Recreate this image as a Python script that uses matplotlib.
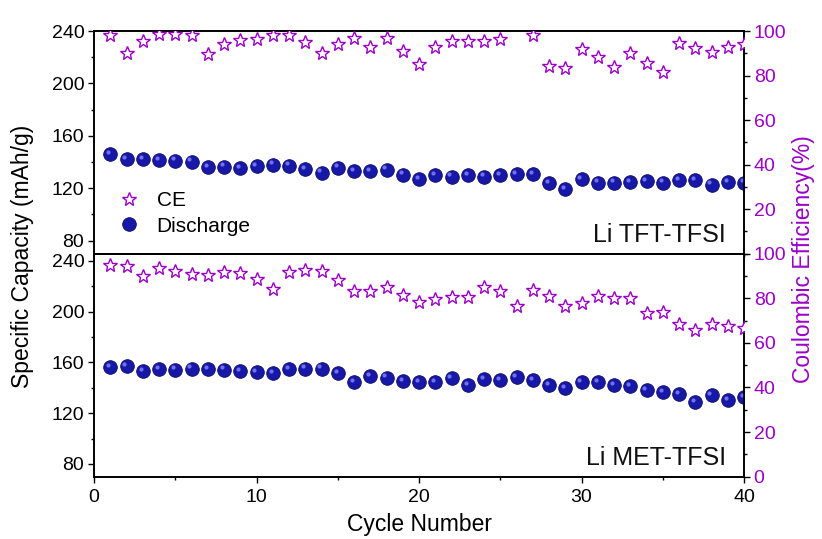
import numpy as np
import matplotlib
matplotlib.use("Agg")
import matplotlib.pyplot as plt
from matplotlib import transforms
from matplotlib.lines import Line2D
from matplotlib.ticker import MultipleLocator

plt.rcParams['font.family'] = ['Liberation Sans', 'DejaVu Sans']

cycles = np.arange(1, 41)

tft_discharge = [146.2, 142.1, 142.1, 141.6, 141.1, 140.3, 136.3, 136.5, 135.3, 137.0,
                 138.0, 137.3, 134.5, 131.9, 135.7, 133.2, 133.0, 134.2, 130.4, 126.9,
                 130.2, 128.9, 130.0, 128.9, 130.0, 130.7, 130.7, 123.8, 119.2, 126.9,
                 124.3, 124.3, 124.8, 125.3, 124.3, 126.3, 126.3, 122.8, 124.8, 124.3]
tft_ce = [98.2, 90.0, 95.5, 98.5, 98.5, 98.2, 89.5, 94.3, 96.0, 96.4,
          98.2, 98.2, 94.9, 90.3, 94.0, 96.7, 93.0, 96.7, 91.0, 85.0,
          92.8, 95.5, 95.7, 95.5, 96.4, np.nan, 98.2, 84.4, 83.2, 91.8,
          88.5, 84.0, 90.0, 85.8, 81.4, 94.5, 92.5, 90.4, 92.7, 94.2]
met_discharge = [156.3, 156.8, 152.9, 154.5, 154.2, 155.0, 154.5, 154.2, 153.4, 152.6,
                 151.8, 154.5, 155.0, 155.0, 151.5, 144.4, 148.9, 147.9, 145.0, 144.4,
                 144.4, 147.6, 141.8, 147.1, 146.3, 148.4, 146.3, 141.8, 140.0, 144.4,
                 144.4, 141.8, 141.0, 138.4, 136.5, 135.2, 128.4, 134.5, 130.0, 132.6]
met_ce = [94.9, 94.5, 90.0, 93.4, 92.2, 90.9, 90.3, 91.7, 91.2, 88.5,
          84.0, 91.7, 92.8, 92.4, 88.2, 83.4, 83.4, 85.1, 81.5, 78.2,
          79.8, 80.7, 80.4, 85.2, 83.3, 76.7, 83.7, 80.9, 76.4, 77.8,
          81.2, 80.3, 80.3, 73.5, 74.0, 68.5, 65.8, 68.3, 67.4, 66.5]

panel_names = ["Li TFT-TFSI", "Li MET-TFSI"]

purple = '#9B00C8'
blue = '#1818A8'
blue_edge = '#0A0A66'

fig = plt.figure(figsize=(8.22, 5.39), dpi=100)
L, W = 94 / 822, 650 / 822
ax_top = fig.add_axes([L, 1 - 253.7 / 539, W, 222.7 / 539])
ax_bot = fig.add_axes([L, 1 - 476.7 / 539, W, 223.0 / 539])

STAR_MS = 10.5
BALL_MS = 9.8

def draw_panel(ax, dis, ce, name, ylim, is_top):
    ax.set_xlim(0, 40)
    ax.set_ylim(*ylim)
    axr = ax.twinx()
    axr.set_ylim(0, 100)
    # discharge spheres
    ax.plot(cycles, dis, 'o', ms=BALL_MS, mfc=blue, mec=blue_edge, mew=0.6, zorder=3)
    hl = transforms.offset_copy(ax.transData, fig=fig, x=-1.6, y=1.6, units='points')
    ax.plot(cycles, dis, 'o', ms=3.0, mfc='#8080FF', mec='none', alpha=0.85,
            transform=hl, zorder=4)
    # CE stars
    axr.plot(cycles, ce, '*', ms=STAR_MS, mfc='white', mec=purple, mew=1.0, zorder=3)
    # ticks
    ax.set_yticks([80, 120, 160, 200, 240])
    ax.yaxis.set_minor_locator(MultipleLocator(20))
    axr.yaxis.set_major_locator(MultipleLocator(20))
    axr.yaxis.set_minor_locator(MultipleLocator(10))
    ax.xaxis.set_major_locator(MultipleLocator(10))
    ax.tick_params(axis='both', which='major', direction='out', length=4, width=1,
                   labelsize=14, pad=3)
    ax.tick_params(axis='x', which='major', pad=5)
    ax.tick_params(axis='both', which='minor', direction='out', length=2.5, width=1)
    axr.tick_params(axis='y', which='major', direction='out', length=4, width=1,
                    labelsize=14, labelcolor=purple, pad=3)
    axr.tick_params(axis='y', which='minor', direction='out', length=2.5, width=1)
    for a in (ax, axr):
        for s in a.spines.values():
            s.set_linewidth(1.2)
    if is_top:
        ax.tick_params(axis='x', labelbottom=False)
        ax.xaxis.set_minor_locator(MultipleLocator(40))
        ax.set_xticks([10, 20, 30])
        axr.set_yticks([20, 40, 60, 80, 100])
    else:
        ax.xaxis.set_minor_locator(MultipleLocator(5))
    ax.text(0.972, 0.03, name, transform=ax.transAxes, ha='right', va='bottom',
            fontsize=18, color='#111111')
    return axr

axr_top = draw_panel(ax_top, tft_discharge, tft_ce, panel_names[0], (70, 240), True)
axr_bot = draw_panel(ax_bot, met_discharge, met_ce, panel_names[1], (70, 245.5), False)

ax_bot.set_xlabel("Cycle Number", fontsize=16.5, labelpad=5)
fig.text(0.027, 0.525, "Specific Capacity (mAh/g)", rotation=90, ha='center',
         va='center', fontsize=16.5)
fig.text(0.978, 0.52, "Coulombic Efficiency(%)", rotation=90, ha='center',
         va='center', fontsize=16.5, color=purple)

handles = [Line2D([], [], ls='none', marker='*', ms=STAR_MS, mfc='white', mec=purple, mew=1.0),
           Line2D([], [], ls='none', marker='o', ms=BALL_MS, mfc=blue, mec=blue_edge, mew=0.6)]
ax_top.legend(handles, ["CE", "Discharge"], loc='upper left',
              bbox_to_anchor=(0.0, 0.345), frameon=False, fontsize=15,
              handletextpad=0.3, labelspacing=0.3, borderaxespad=0.3)

fig.savefig("out.png", dpi=100)
